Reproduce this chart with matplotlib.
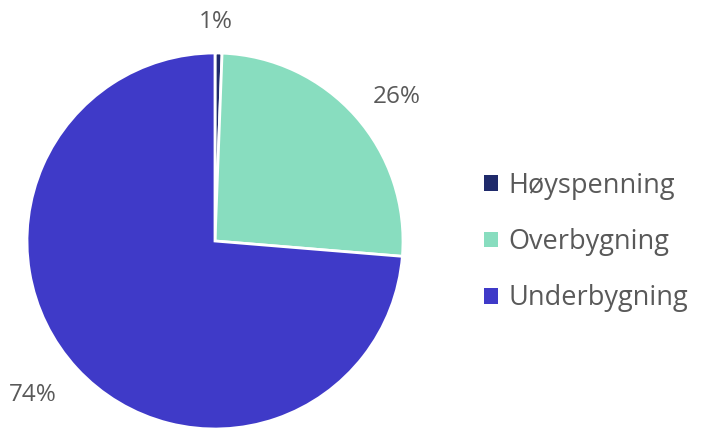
import matplotlib
matplotlib.use("Agg")
import matplotlib.pyplot as plt
from matplotlib.patches import Patch
import numpy as np

categories = ["Høyspenning", "Overbygning", "Underbygning"]
values = [0.6, 25.7, 73.7]
pct_labels = ["1%", "26%", "74%"]
colors = ["#1F2A6B", "#88DDBF", "#3F3AC8"]

plt.rcParams['font.family'] = ['Open Sans', 'DejaVu Sans']
text_color = "#595959"

fig = plt.figure(figsize=(7.01, 4.30), dpi=100)
cx, cy, r = 215, 241, 188
ax = fig.add_axes([(cx - r) / 701, (430 - cy - r) / 430, 2 * r / 701, 2 * r / 430])
wedges, _ = ax.pie(values, colors=colors, startangle=90, counterclock=False,
                   wedgeprops=dict(edgecolor="white", linewidth=2))
ax.set_xlim(-1, 1)
ax.set_ylim(-1, 1)
ax.set_aspect('equal')

dists = [1.165, 1.234, 1.27]
angle_shift = [1.0, -3.2, -2.5]
for w, lab, d, s in zip(wedges, pct_labels, dists, angle_shift):
    ang = np.deg2rad((w.theta1 + w.theta2) / 2 + s)
    ax.text(d * np.cos(ang), d * np.sin(ang), lab, ha="center", va="center",
            fontsize=17.5, color=text_color, clip_on=False)

handles = [Patch(facecolor=c, edgecolor="none") for c in colors]
leg = fig.legend(handles, categories, loc="center left", bbox_to_anchor=(460 / 701, 1 - 242 / 430),
                 frameon=False, handlelength=0.5, handleheight=0.5,
                 handletextpad=0.4, labelspacing=1.05, labelcolor=text_color,
                 prop=dict(family=['Open Sans', 'DejaVu Sans'], size=19.5))

fig.savefig("out.png", dpi=100)
